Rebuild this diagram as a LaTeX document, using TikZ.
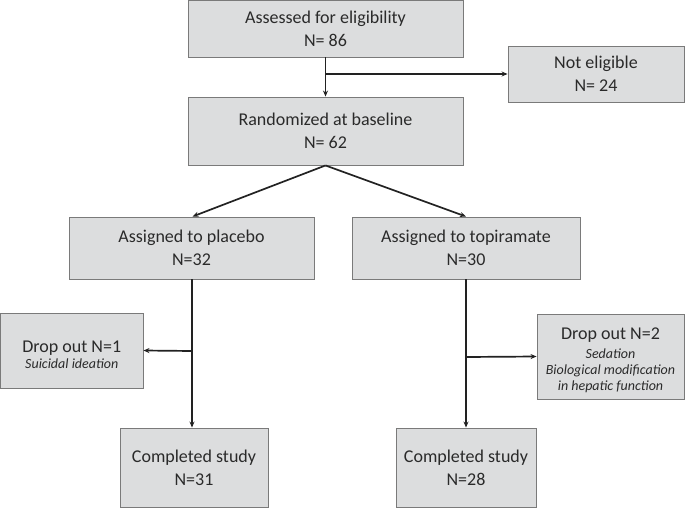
\documentclass[tikz,border=0pt]{standalone}
\usepackage{fontspec}
\setmainfont{Carlito}
\usetikzlibrary{arrows.meta}
\definecolor{boxfill}{HTML}{DCDDDE}
\definecolor{boxline}{HTML}{7A7A7A}
\definecolor{txt}{HTML}{2A2A2A}
\definecolor{arr}{HTML}{222222}
\newcommand{\subtxt}[1]{{\fontsize{14}{17}\selectfont\itshape #1}}
\begin{document}
\begin{tikzpicture}[x=1pt,y=-1pt,
  flowbox/.style={draw=boxline, line width=0.9pt, fill=boxfill, text=txt, align=center,
    inner sep=0pt, font=\fontsize{18}{23}\selectfont},
  conn/.style={draw=arr, line width=1.7pt, -{Stealth[length=6pt,width=5pt]}}]
\useasboundingbox (0,0) rectangle (685,508);
\node[flowbox, minimum width=275pt, minimum height=57pt] (assess) at (325.5,28.5)
  {Assessed for eligibility\\N= 86};
\node[flowbox, minimum width=176pt, minimum height=56pt] (noteli) at (596,74)
  {Not eligible\\N= 24};
\node[flowbox, minimum width=275pt, minimum height=68pt] (random) at (325.5,131)
  {Randomized at baseline\\N= 62};
\node[flowbox, minimum width=245pt, minimum height=62pt] (placebo) at (191.5,248)
  {Assigned to placebo\\N=32};
\node[flowbox, minimum width=228pt, minimum height=62pt] (topi) at (466,248)
  {Assigned to topiramate\\N=30};
\node[flowbox, minimum width=142.5pt, minimum height=75pt] (drop1) at (71.75,350.5)
  {\rule{0pt}{20pt}Drop out N=1\\[-7pt]\subtxt{Suicidal ideation}};
\node[flowbox, minimum width=147pt, minimum height=85pt] (drop2) at (610.5,356.5)
  {\rule{0pt}{19pt}Drop out N=2\\[-4pt]\subtxt{Sedation}\\[-6.5pt]\subtxt{Biological modification}\\[-7pt]\subtxt{in hepatic function}};
\node[flowbox, minimum width=148pt, minimum height=79pt] (comp31) at (194,467.5)
  {Completed study\\N=31};
\node[flowbox, minimum width=140pt, minimum height=79pt] (comp28) at (466,467.5)
  {Completed study\\N=28};
\path[conn] (assess.south) -- (random.north);
\coordinate (nb) at (325.5,74);
\path[conn] (nb) -- (noteli.west);
\path[conn] (random.south) -- ([xshift=1pt]placebo.north);
\path[conn] (random.south) -- (topi.north);
\coordinate (pl) at ([xshift=0.5pt]placebo.south);
\coordinate (pb) at (192,351);
\path[conn] (pl) -- (pl |- comp31.north);
\path[conn] (pb) -- (drop1.east);
\coordinate (tb) at (466,357);
\path[conn] (topi.south) -- (comp28.north);
\path[conn] (tb) -- (drop2.west);
\end{tikzpicture}
\end{document}
